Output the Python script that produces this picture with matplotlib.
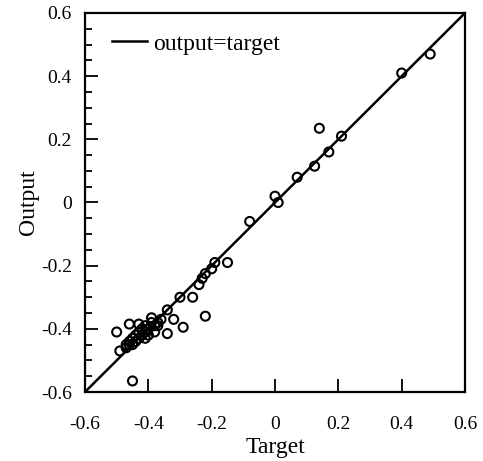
import numpy as np
import matplotlib
matplotlib.use("Agg")
import matplotlib.pyplot as plt
from matplotlib.ticker import MultipleLocator

plt.rcParams["font.family"] = ["Liberation Serif", "DejaVu Serif"]
plt.rcParams["axes.unicode_minus"] = False

# network output vs. target
target = [0.49, 0.40, 0.14, 0.21, 0.17, 0.125, 0.07, 0.00, 0.01, -0.08,
          -0.19, -0.15, -0.20, -0.22, -0.23, -0.24, -0.26, -0.30, -0.34, -0.22,
          -0.32, -0.39, -0.43, -0.29, -0.37, -0.34, -0.46, -0.50, -0.49, -0.45,
          -0.47, -0.46, -0.46, -0.45, -0.44, -0.44, -0.43, -0.43, -0.42, -0.42,
          -0.41, -0.41, -0.40, -0.40, -0.39, -0.38, -0.37, -0.38, -0.45, -0.47,
          -0.41, -0.36]
output = [0.47, 0.41, 0.235, 0.21, 0.16, 0.115, 0.08, 0.02, 0.00, -0.06,
          -0.19, -0.19, -0.21, -0.225, -0.24, -0.26, -0.30, -0.30, -0.34, -0.36,
          -0.37, -0.365, -0.385, -0.395, -0.39, -0.415, -0.385, -0.41, -0.47, -0.565,
          -0.46, -0.45, -0.44, -0.43, -0.44, -0.42, -0.41, -0.43, -0.40, -0.42,
          -0.41, -0.39, -0.40, -0.42, -0.38, -0.39, -0.38, -0.41, -0.45, -0.45,
          -0.43, -0.37]
diag = [-0.6, 0.6]


def fmt(v, pos):
    return "0" if abs(v) < 1e-9 else f"{v:.1f}"


fig = plt.figure(figsize=(4.83, 4.61), dpi=100)
ax = fig.add_axes([85 / 483, 1 - 392 / 461, 380 / 483, 379 / 461])

ax.plot(diag, diag, color="black", linewidth=1.8, label="output=target")
ax.scatter(target, output, s=42, facecolors="none", edgecolors="black",
           linewidths=1.5, zorder=3)

ax.set_xlim(-0.6, 0.6)
ax.set_ylim(-0.6, 0.6)
ax.xaxis.set_major_locator(MultipleLocator(0.2))
ax.yaxis.set_major_locator(MultipleLocator(0.2))
ax.yaxis.set_minor_locator(MultipleLocator(0.05))
ax.xaxis.set_major_formatter(plt.FuncFormatter(fmt))
ax.yaxis.set_major_formatter(plt.FuncFormatter(fmt))
ax.tick_params(which="major", direction="in", length=9.5, width=1.3, labelsize=14, pad=9.5)
ax.tick_params(which="minor", direction="in", length=5, width=1.3)
ax.tick_params(axis="x", which="major", pad=17)
for s in ax.spines.values():
    s.set_linewidth(1.6)

ax.set_xlabel("Target", fontsize=17, labelpad=3)
ax.set_ylabel("Output", fontsize=17, labelpad=1)

ax.legend(loc="upper left", frameon=False, fontsize=17, handlelength=1.5,
          handletextpad=0.25, bbox_to_anchor=(0.014, 1.003))

fig.savefig("out.png", dpi=100)
